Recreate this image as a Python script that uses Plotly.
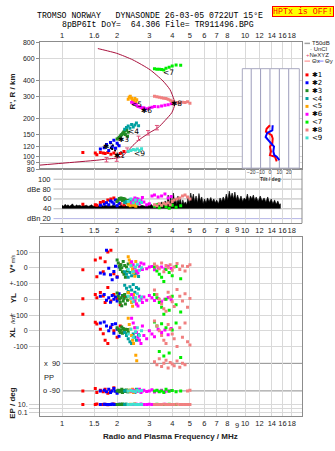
import math
import plotly.graph_objects as go

W, H = 335, 451


def px(x):
    return x / W


def py(y):
    return 1 - y / H


# ---------------- text ----------------
TITLE_1 = "TROMSO NORWAY\u00a0\u00a0\u00a0DYNASONDE 26-03-05 0722UT 15°E"
TITLE_2 = "8pBP6It DoY=\u00a0\u00a064.306 File= TR911496.BPG"
WARNING = "HPTx is OFF!"
X_TITLE = "Radio and Plasma Frequency / MHz"

FREQ_TICKS = [1, 1.5, 2, 3, 4, 5, 6, 7, 8, 10, 12, 14, 16, 18]
FREQ_TEXT_TOP = ["1", "1.6", "2", "3", "4", "5", "6", "7", "8", "10", "12", "14", "16", "18"]
FREQ_TEXT = ["1", "1.5", "2", "3", "4", "5", "6", "7", "8", "10", "12", "14", "16", "18"]
EXTRA_TICK = 9
HEIGHT_TICKS = [80, 90, 100, 120, 150, 200, 300, 400, 600, 800]
DBE_TICKS = [100, 80, 60, 40, 20]
DBE_TEXT = ["100", "dBe 80", "60", "40", "dBn 20"]
TILT_TICKS = [-20, -10, 0, 10, 20]

# ---------------- profile (plasma frequency vs height) ----------------
profile_f = [0.758, 1.0, 1.55, 1.75, 2.08, 2.26, 2.44, 2.67, 3.03, 3.35, 3.65, 3.98,
             4.13, 4.09, 3.89, 3.56, 3.03, 2.44, 1.99, 1.61, 1.57]
profile_h = [86, 89, 94, 96, 99, 109, 123, 138, 156, 170, 193, 223,
             259, 283, 339, 397, 486, 582, 656, 709, 715]

# NeXYZ points
nexyz_f = [1.75, 1.99, 2.27, 2.62, 2.95, 3.30]
nexyz_h = [95, 96, 113, 140, 155, 170]

# unclassified echoes
uncl_f = [1.85, 1.90, 1.95, 2.02, 2.10, 1.88]
uncl_h = [118, 122, 112, 125, 108, 115]

# ---------------- echo clusters ----------------
cluster_names = ["✱1", "✱2", "✱3", "<4", "<5", "✱6", "<7", "✱8", "<9"]
cluster_colors = ["#ff0000", "#0000ff", "#228b22", "#00a0a0", "#ffa500",
                  "#ff00ff", "#00ee00", "#f08080", "#40e0d0"]
label_f = [2.05, 1.80, 2.16, 2.45, 2.56, 2.90, 3.81, 4.24, 2.64]
label_h = [102, 121, 138, 158, 259, 234, 463, 263, 107]

ECHO_F = [
    [1.30, 1.52, 1.55, 1.62, 1.68, 1.72, 1.78, 1.85, 1.92, 2.00, 2.08, 2.18],
    [1.62, 1.70, 1.75, 1.80, 1.84, 1.88, 1.92, 1.96, 2.00, 2.05],
    [2.00, 2.03, 2.06, 2.08, 2.10, 2.12, 2.14, 2.16, 2.18, 2.20, 2.22, 2.25, 2.28, 2.30],
    [2.20, 2.25, 2.30, 2.35, 2.40, 2.45, 2.50, 2.55, 2.62],
    [2.30, 2.33, 2.36, 2.40, 2.43, 2.46, 2.50, 2.53, 2.56],
    [2.40, 2.45, 2.50, 2.55, 2.60, 2.65, 2.70, 2.75, 2.80, 2.90, 3.00, 3.10, 3.20, 3.35, 3.50, 3.65, 3.80, 3.95],
    [3.20, 3.30, 3.40, 3.50, 3.60, 3.70, 3.85, 4.00, 4.20, 4.45],
    [3.20, 3.30, 3.40, 3.50, 3.60, 3.70, 3.80, 3.90, 4.00, 4.10, 4.25, 4.40, 4.55, 4.70, 4.85, 5.00],
    [2.30, 2.38, 2.45, 2.52, 2.58, 2.65, 2.72],
]
ECHO_H = [
    [108, 107, 104, 108, 107, 106, 108, 105, 107, 103, 106, 110],
    [115, 118, 125, 112, 130, 120, 135, 117, 128, 122],
    [138, 140, 142, 145, 148, 150, 152, 155, 158, 160, 150, 162, 145, 156],
    [165, 170, 175, 168, 180, 172, 178, 185, 176],
    [285, 295, 300, 290, 280, 275, 288, 270, 282],
    [270, 265, 260, 258, 250, 248, 245, 242, 244, 240, 243, 246, 250, 248, 252, 255, 258, 262],
    [495, 490, 492, 488, 485, 500, 510, 520, 530, 528],
    [300, 298, 295, 292, 290, 288, 285, 280, 275, 270, 268, 266, 270, 268, 272, 265],
    [110, 112, 114, 113, 115, 112, 116],
]
ECHO_DBE = [
    [49, 48, 47, 53, 55, 52, 58, 60, 62, 56, 50, 48],
    [47, 49, 52, 48, 56, 54, 50, 58, 46, 51],
    [55, 58, 61, 60, 62, 59, 57, 61, 56, 60, 58, 54, 52, 57],
    [52, 55, 50, 58, 54, 48, 56, 60, 53],
    [48, 50, 46, 52, 49, 47, 51, 45, 50],
    [52, 58, 62, 55, 60, 50, 57, 63, 54, 48, 50, 66, 68, 64, 66, 70, 62, 65],
    [45, 48, 42, 46, 50, 44, 41, 47, 43, 46],
    [48, 46, 50, 47, 51, 49, 52, 48, 55, 58, 60, 62, 66, 68, 64, 60],
    [55, 60, 52, 58, 50, 57, 53],
]
ECHO_VS = [
    [-12, 50, -56, 62, -25, 38, 100, 112, -38, -56, 20, -30],
    [-33, -39, 112, -2, -44, -75, -23, 10, -60, 5],
    [50, 30, 10, -10, 20, 0, -25, 40, -40, 15, -60, 5, -20, 25],
    [-25, -40, -60, -30, -50, -20, -45, -35, -55],
    [70, 50, 30, 10, -10, -30, -54, 40, -20],
    [39, 20, 0, -20, -33, 10, 30, -10, 25, -5, 5, 8, -12, 0, 5, -8, 10, -4],
    [5, -20, -40, -60, -86, -10, -30, -50, 8, -70],
    [25, 10, -5, 31, -25, 15, 0, 20, -15, 5, 28, -10, 12, -20, 8, 20],
    [-10, 15, -25, 5, 20, -15, 0],
]
ECHO_YL = [
    [4, 31, 10, 44, 21, -20, 75, -10, 30, 5, -35, 15],
    [20, 31, -5, 10, -19, 25, 0, 15, -10, 35],
    [40, 20, 0, -20, 10, -40, 25, -10, 5, 30, -30, 15, -5, 44],
    [90, 70, 50, 80, 60, 94, 45, 75, 65],
    [44, 20, 0, -20, -44, 30, -10, 10, -30],
    [30, 10, -10, -30, -42, 20, 0, -20, 15, -5, 25, 10, -8, 5, -15, 0, 12, -3],
    [31, 10, -20, -50, -94, 0, -70, 20, -35, -80],
    [60, 30, 0, -30, -60, -75, 45, 15, -15, -45, 62, 20, -10, 35, -50, 5],
    [20, 5, -15, 10, 35, -5, 15],
]
ECHO_XL = [
    [106, 54, 44, 10, -19, -60, -81, 25, 0, -40, 30, -10],
    [50, 56, 30, 0, 20, 40, -15, 45, 10, -35],
    [20, 10, 0, -10, 5, 25, -15, 15, -5, 0, 10, -19, 8, -8],
    [-10, -30, -50, -70, -81, -20, -40, -60, -25],
    [80, 40, 10, -30, -60, -81, 20, -155, -190],
    [80, 50, 20, -10, -40, -60, -81, 30, -30, -50, 0, -20, -37, 10, -10, 5, -25, 15],
    [56, 30, -131, 45, -160, 20, -140, 5, 50, -170],
    [62, 30, 0, -30, -60, -81, 40, 10, -20, -50, -100, 20, -40, 50, -70, -90],
    [-20, 10, -40, -5, 20, -30, 0],
]
ECHO_PP = [
    [-90, -75, -100, -85, -95, -80, -105, -90, -70, -98, -88, -92],
    [-90, -85, -95, -80, -100, -90, -75, -92, -105, -88],
    [-90, -85, -95, -88, -92, -80, -100, -90, -86, -94, -90, -84, -96, -90],
    [-90, -88, -95, -85, -92, -90, -100, -80, -90],
    [-90, -85, -95, -90, -80, -100, -88, -92, -90],
    [-90, -85, -95, -92, -88, -80, -100, -90, -86, -94, -90, -82, -98, -90, -85, -95, -90, -88],
    [-90, -85, -95, -90, -100, -80, -92, -88, -95, -90],
    [100, 80, 120, 70, 90, 110, 60, 95, 85, 75, 105, 65, 90, 80, -90, -85],
    [-90, -88, -92, -95, -85, -90, -87],
]
ECHO_EP = [
    [10, 10, 12, 9, 10, 11, 8, 10, 13, 10, 9, 10],
    [10, 11, 9, 10, 10, 12, 10, 9, 10, 11],
    [10, 10, 9, 11, 10, 10, 12, 9, 10, 10, 11, 10, 9, 10],
    [10, 11, 10, 9, 10, 10, 11, 10, 9],
    [10, 10, 11, 9, 10, 10, 12, 10, 9],
    [10, 10, 9, 11, 10, 10, 12, 9, 10, 10, 11, 10, 9, 10, 10, 11, 10, 9],
    [10, 11, 10, 9, 10, 10, 11, 10, 10, 9],
    [10, 10, 9, 10, 11, 10, 10, 9, 10, 10, 11, 10, 10, 9, 10, 10],
    [10, 10, 11, 9, 10, 10, 10],
]

# ---------------- noise amplitude (dBe) ----------------
noise_f = [1.00, 1.02, 1.04, 1.06, 1.08, 1.10, 1.12, 1.14, 1.16, 1.18, 1.20, 1.22, 1.25, 1.28, 1.30, 1.33, 1.36, 1.39, 1.42, 1.45, 1.48,
           1.52, 1.56, 1.60, 1.64, 1.68, 1.72, 1.76, 1.80, 1.85, 1.90, 1.95, 2.00, 2.05, 2.10, 2.15, 2.20, 2.25, 2.30, 2.36, 2.42, 2.48, 2.54, 2.60, 2.66, 2.72, 2.78, 2.85, 2.92,
           3.00, 3.07, 3.14, 3.21, 3.28, 3.35, 3.42, 3.50, 3.58, 3.66, 3.74, 3.80, 3.86, 3.93, 4.00,
           4.06, 4.12, 4.18, 4.24, 4.30, 4.36, 4.43, 4.50, 4.57, 4.64, 4.72, 4.80, 4.88, 4.96,
           5.05, 5.13, 5.22, 5.30, 5.40, 5.50, 5.60, 5.70, 5.80, 5.90, 6.00, 6.12, 6.24, 6.36,
           6.50, 6.62, 6.75, 6.88, 7.00, 7.15, 7.30, 7.45, 7.60, 7.75, 7.90,
           8.05, 8.20, 8.35, 8.50, 8.65, 8.80, 8.95, 9.10, 9.30, 9.50, 9.70, 9.90,
           10.1, 10.3, 10.5, 10.7, 10.9, 11.1, 11.3, 11.5, 11.8,
           12.1, 12.4, 12.7, 13.0, 13.3, 13.6, 13.9, 14.2, 14.5, 14.8, 15.1, 15.4, 15.6]
noise_db = [47, 45, 49, 46, 48, 45, 47, 50, 46, 45, 48, 46, 47, 45, 48, 46, 47, 45, 46, 48, 45,
            47, 45, 46, 48, 45, 47, 46, 48, 45, 47, 46, 48, 45, 47, 46, 48, 45, 47, 46, 48, 45, 47, 46, 45, 47, 46, 45, 47,
            46, 49, 45, 50, 46, 52, 47, 54, 46, 56, 48, 68, 50, 62, 47,
            72, 55, 60, 48, 66, 52, 62, 47, 58, 50, 54, 48, 63, 50,
            72, 58, 70, 55, 66, 52, 71, 56, 64, 50, 60, 52, 62, 55,
            63, 54, 60, 52, 58, 50, 62, 55, 64, 56, 70,
            58, 76, 62, 72, 60, 74, 58, 68, 56, 66, 55, 62,
            58, 70, 56, 66, 60, 68, 57, 64, 55,
            66, 56, 62, 54, 64, 52, 60, 50, 58, 49, 56, 48, 50]
NOISE_FLOOR = 41

# ---------------- tilt profile ----------------
tilt_x_h = [176, 165, 156, 147, 138, 126, 119, 109, 102, 99, 91]
tilt_x = [0, -3.6, -4.3, 1.8, 2.9, 2.5, 0, 1.1, 0, 5.4, 7.2]
tilt_y_h = [176, 160, 153, 142, 134, 126, 119, 109, 102, 99, 93]
tilt_y = [2.9, 2.5, -2.9, -4.6, -1.8, 1.8, 4.3, 3.6, 4.6, 7.2, 10]

# ---------------- bottom-panel track layout (pixel rows) ----------------
ROW_VS, ROW_YL, ROW_XL, ROW_PP, ROW_EP = 268, 300, 332, 379, 406.7
PX_PER_UNIT = 0.16          # 16 px per 100 units
PP_PX_PER_DEG = 14 / 90
EP_PX_PER_DECADE = 4.15
BOTTOM_TICK_PX = [252, 268, 284, 300, 316, 332, 348, 406.7, 410.85, 415]
BOTTOM_TICK_TEXT = ["100", "0", "+-100", "0", "+-100", "0", "-100", "10.", "", "0.1"]

FRAME = "#8c8c8c"
GRID = "#d9d9d9"
TICKFONT = dict(family="Liberation Sans, Arial, sans-serif", size=7.5, color="#222")
YTICKFONT = dict(family="Liberation Sans, Arial, sans-serif", size=7, color="#222")
X_RANGE = [math.log10(0.7582), math.log10(20.47)]

fig = go.Figure()

# --- top panel ---
fig.add_trace(go.Scatter(x=profile_f, y=profile_h, mode="lines", line=dict(color="#a8103c", width=1, shape="spline", smoothing=0.6),
                         xaxis="x", yaxis="y", hoverinfo="skip"))
fig.add_trace(go.Scatter(x=nexyz_f, y=nexyz_h, mode="markers", marker=dict(size=1, color="#e0507a"),
                         error_y=dict(type="percent", value=4, color="#e0507a", thickness=1, width=2),
                         xaxis="x", yaxis="y", hoverinfo="skip"))
fig.add_trace(go.Scatter(x=uncl_f, y=uncl_h, mode="markers", marker=dict(size=2, color="black", symbol="square"),
                         xaxis="x", yaxis="y", hoverinfo="skip"))

for i, col in enumerate(cluster_colors):
    fig.add_trace(go.Scatter(x=ECHO_F[i], y=ECHO_H[i], mode="markers",
                             marker=dict(size=3, color=col, symbol="square"),
                             xaxis="x", yaxis="y", hoverinfo="skip"))

# --- dBe panel ---
poly_x = noise_f + noise_f[::-1]
poly_y = noise_db + [NOISE_FLOOR] * len(noise_f)
fig.add_trace(go.Scatter(x=poly_x, y=poly_y, mode="lines", fill="toself", fillcolor="black",
                         line=dict(color="black", width=0.6), xaxis="x2", yaxis="y2", hoverinfo="skip"))
for i, col in enumerate(cluster_colors):
    fig.add_trace(go.Scatter(x=ECHO_F[i], y=ECHO_DBE[i], mode="markers",
                             marker=dict(size=3, color=col, symbol="square"),
                             xaxis="x2", yaxis="y2", hoverinfo="skip"))

# --- bottom panel ---
for i, col in enumerate(cluster_colors):
    xs, ys = [], []
    for f, v in zip(ECHO_F[i], ECHO_VS[i]):
        xs.append(f); ys.append(ROW_VS - v * PX_PER_UNIT)
    for f, v in zip(ECHO_F[i], ECHO_YL[i]):
        xs.append(f); ys.append(ROW_YL - v * PX_PER_UNIT)
    for f, v in zip(ECHO_F[i], ECHO_XL[i]):
        xs.append(f); ys.append(ROW_XL - v * PX_PER_UNIT)
    for f, v in zip(ECHO_F[i], ECHO_PP[i]):
        xs.append(f); ys.append(ROW_PP - v * PP_PX_PER_DEG)
    for f, v in zip(ECHO_F[i], ECHO_EP[i]):
        xs.append(f); ys.append(ROW_EP - (math.log10(v) - 1) * EP_PX_PER_DECADE)
    fig.add_trace(go.Scatter(x=xs, y=ys, mode="markers", marker=dict(size=3, color=col, symbol="square"),
                             xaxis="x3", yaxis="y3", hoverinfo="skip"))

# --- inset tilt panel ---
IN_Y = [80.4, 494.8]
IN_X = [-29.5, 31.3]
fig.add_trace(go.Scatter(x=[IN_X[0], IN_X[1], IN_X[1], IN_X[0], IN_X[0]], y=[IN_Y[0], IN_Y[0], IN_Y[1], IN_Y[1], IN_Y[0]],
                         mode="lines", fill="toself", fillcolor="white", line=dict(width=0),
                         xaxis="x4", yaxis="y4", hoverinfo="skip"))
for t in TILT_TICKS:
    fig.add_trace(go.Scatter(x=[t, t], y=IN_Y, mode="lines", line=dict(color="#9c9cbc", width=1),
                             xaxis="x4", yaxis="y4", hoverinfo="skip"))
fig.add_trace(go.Scatter(x=tilt_x, y=tilt_x_h, mode="lines", line=dict(color="#ff0000", width=2),
                         xaxis="x4", yaxis="y4", hoverinfo="skip"))
fig.add_trace(go.Scatter(x=tilt_y, y=tilt_y_h, mode="lines", line=dict(color="#0000ff", width=2),
                         xaxis="x4", yaxis="y4", hoverinfo="skip"))

shapes = []
annotations = []

# inset frame
shapes.append(dict(type="rect", xref="paper", yref="paper", x0=px(242.3), x1=px(299.3), y0=py(166.7), y1=py(65.7),
                   line=dict(color="#a8a8c0", width=1), layer="above"))

# dBe panel grid lines + labels
for v, t in zip(DBE_TICKS, DBE_TEXT):
    shapes.append(dict(type="line", xref="paper", yref="y2", x0=px(53.5), x1=px(302), y0=v, y1=v,
                       line=dict(color="#b4b4e6" if v == 20 else "#b8b8b8", width=1), layer="below"))
    annotations.append(dict(text=t, xref="paper", yref="y2", x=px(53), y=v, xanchor="right", yanchor="middle",
                            showarrow=False, font=TICKFONT))
shapes.append(dict(type="line", xref="paper", yref="paper", x0=px(302), x1=px(302), y0=py(222.7), y1=py(167.7),
                   line=dict(color=FRAME, width=1)))

# bottom panel PP lines
for yy in [365, 393]:
    shapes.append(dict(type="line", xref="paper", yref="y3", x0=px(62), x1=px(302), y0=yy, y1=yy,
                       line=dict(color="#8c8c8c", width=1), layer="below"))
annotations += [
    dict(text="x\u00a0\u00a090", xref="paper", yref="y3", x=px(62), y=365, xanchor="right", yanchor="middle", showarrow=False, font=TICKFONT),
    dict(text="PP", xref="paper", yref="y3", x=px(42), y=379, xanchor="left", yanchor="middle", showarrow=False, font=TICKFONT),
    dict(text="o -90", xref="paper", yref="y3", x=px(62), y=393, xanchor="right", yanchor="middle", showarrow=False, font=TICKFONT),
]

# extra "9" tick labels
for yy in [229.5, 428]:
    annotations.append(dict(text=str(EXTRA_TICK), xref="paper", yref="paper",
                            x=px(62 + 183 * math.log10(EXTRA_TICK)), y=py(yy), xanchor="center", yanchor="middle",
                            showarrow=False, font=TICKFONT))

# cluster labels on ionogram
for name, f, h in zip(cluster_names, label_f, label_h):
    annotations.append(dict(text=name, xref="x", yref="y", x=math.log10(f), y=math.log10(h), xanchor="center",
                            yanchor="middle", showarrow=False, borderpad=0,
                            font=dict(family="DejaVu Sans, sans-serif", size=7.5, color="black")))

# header
MONO = "Liberation Mono, DejaVu Sans Mono, monospace"
annotations += [
    dict(text=TITLE_1, xref="paper", yref="paper", x=px(150), y=py(11.6), xanchor="center", yanchor="middle",
         showarrow=False, borderpad=0, font=dict(family=MONO, size=8.2, color="black")),
    dict(text=TITLE_2, xref="paper", yref="paper", x=px(157.5), y=py(20.4), xanchor="center", yanchor="middle",
         showarrow=False, borderpad=0, font=dict(family=MONO, size=8.2, color="black")),
    dict(text=WARNING, xref="paper", yref="paper", x=px(302.5), y=py(7.3), xanchor="center", yanchor="middle",
         showarrow=False, bgcolor="#ffff00", bordercolor="#ff0000", borderwidth=1, borderpad=0,
         font=dict(family=MONO, size=8.3, color="#ff0000")),
]

# axis titles
BOLD = dict(family="Liberation Sans, Arial, sans-serif", size=8, color="#222")
annotations += [
    dict(text="<b>R', R / km</b>", xref="paper", yref="paper", x=px(13), y=py(89), textangle=-90,
         xanchor="center", yanchor="middle", showarrow=False, font=BOLD),
    dict(text="<b>V*</b><span style='font-size:5px'> m/s</span>", xref="paper", yref="paper", x=px(13), y=py(264),
         textangle=-90, xanchor="center", yanchor="middle", showarrow=False, font=BOLD),
    dict(text="<b>YL</b>", xref="paper", yref="paper", x=px(13), y=py(299), textangle=-90,
         xanchor="center", yanchor="middle", showarrow=False, font=BOLD),
    dict(text="<span style='font-size:6px'>/km</span>", xref="paper", yref="paper", x=px(13), y=py(320), textangle=-90,
         xanchor="center", yanchor="middle", showarrow=False, font=BOLD),
    dict(text="<b>XL</b>", xref="paper", yref="paper", x=px(13), y=py(334), textangle=-90,
         xanchor="center", yanchor="middle", showarrow=False, font=BOLD),
    dict(text="<b>EP / deg</b>", xref="paper", yref="paper", x=px(13), y=py(405), textangle=-90,
         xanchor="center", yanchor="middle", showarrow=False, font=BOLD),
    dict(text="<b>" + X_TITLE + "</b>", xref="paper", yref="paper", x=px(170), y=py(439),
         xanchor="center", yanchor="middle", showarrow=False, font=BOLD),
    dict(text="<b>Tilt / deg</b>", xref="paper", yref="paper", x=px(270), y=py(177.8),
         xanchor="center", yanchor="middle", showarrow=False,
         font=dict(family="Liberation Sans, Arial, sans-serif", size=5, color="#333")),
]

# legend (drawn manually)
LEG = dict(family="Liberation Sans, Arial, sans-serif", size=6, color="#222")
shapes.append(dict(type="line", xref="paper", yref="paper", x0=px(304.5), x1=px(310), y0=py(40), y1=py(40),
                   line=dict(color="#a0a0a0", width=1.5)))
annotations.append(dict(text="T50dB", xref="paper", yref="paper", x=px(311), y=py(40), xanchor="left",
                        yanchor="middle", showarrow=False, borderpad=0, font=LEG))
annotations.append(dict(text="·\u00a0UnCl", xref="paper", yref="paper", x=px(309), y=py(46), xanchor="left",
                        yanchor="middle", showarrow=False, borderpad=0, font=LEG))
annotations.append(dict(text="<span style='color:#e0507a'>+</span>NeXYZ", xref="paper", yref="paper", x=px(304.5),
                        y=py(52), xanchor="left", yanchor="middle", showarrow=False, borderpad=0, font=LEG))
shapes.append(dict(type="line", xref="paper", yref="paper", x0=px(304.5), x1=px(310), y0=py(58), y1=py(58),
                   line=dict(color="#ff8080", width=1)))
shapes.append(dict(type="line", xref="paper", yref="paper", x0=px(318), x1=px(323.5), y0=py(58), y1=py(58),
                   line=dict(color="#8080ff", width=1)))
annotations.append(dict(text="Θx", xref="paper", yref="paper", x=px(310.5), y=py(58), xanchor="left",
                        yanchor="middle", showarrow=False, borderpad=0, font=LEG))
annotations.append(dict(text="Θy", xref="paper", yref="paper", x=px(324), y=py(58), xanchor="left",
                        yanchor="middle", showarrow=False, borderpad=0, font=LEG))
for k, (name, col) in enumerate(zip(cluster_names, cluster_colors)):
    yy = 72 + 8 * k
    shapes.append(dict(type="rect", xref="paper", yref="paper", x0=px(305.5), x1=px(308.5), y0=py(yy + 1.5),
                       y1=py(yy - 1.5), fillcolor=col, line=dict(width=0)))
    annotations.append(dict(text=name, xref="paper", yref="paper", x=px(311), y=py(yy), xanchor="left",
                            yanchor="middle", showarrow=False, borderpad=0,
                            font=dict(family="DejaVu Sans, sans-serif", size=7, color="black")))

fig.update_layout(
    width=W, height=H, margin=dict(l=0, r=0, t=0, b=0),
    paper_bgcolor="white", plot_bgcolor="white", showlegend=False,
    xaxis=dict(type="log", range=X_RANGE, domain=[px(40), px(302)], anchor="y", side="top",
               tickvals=FREQ_TICKS, ticktext=FREQ_TEXT_TOP, showgrid=True, gridcolor=GRID, ticks="", tickangle=0,
               showline=True, linecolor=FRAME, mirror=True, tickfont=TICKFONT, zeroline=False),
    yaxis=dict(type="log", range=[math.log10(80), math.log10(800)], domain=[py(167.7), py(39)], anchor="x",
               tickvals=HEIGHT_TICKS, showgrid=True, gridcolor=GRID, ticks="outside", ticklen=3, tickcolor=FRAME,
               showline=True, linecolor=FRAME, mirror=True, tickfont=YTICKFONT, zeroline=False),
    xaxis2=dict(type="log", range=X_RANGE, domain=[px(40), px(302)], anchor="y2", side="bottom",
                tickvals=FREQ_TICKS, ticktext=FREQ_TEXT, showgrid=True, gridcolor=GRID, ticks="", tickangle=0,
                showline=True, linecolor=FRAME, mirror=True, tickfont=TICKFONT, zeroline=False),
    yaxis2=dict(range=[10.6, 120.6], domain=[py(222.7), py(167.7)], anchor="x2", showticklabels=False,
                showgrid=False, zeroline=False, showline=False),
    xaxis3=dict(type="log", range=X_RANGE, domain=[px(40), px(302)], anchor="y3", side="bottom",
                tickvals=FREQ_TICKS, ticktext=FREQ_TEXT, showgrid=True, gridcolor=GRID, ticks="", tickangle=0,
                showline=True, linecolor=FRAME, mirror=True, tickfont=TICKFONT, zeroline=False),
    yaxis3=dict(range=[419, 237], domain=[py(419), py(237)], anchor="x3", tickvals=BOTTOM_TICK_PX,
                ticktext=BOTTOM_TICK_TEXT, ticks="outside", ticklen=10, tickcolor="#cfcfcf", showgrid=True,
                gridcolor=GRID, showline=True, linecolor=FRAME, mirror=True, tickfont=YTICKFONT, zeroline=False),
    xaxis4=dict(range=IN_X, domain=[px(242.3), px(299.3)], anchor="y4", tickvals=TILT_TICKS, tickangle=0,
                tickfont=dict(family="Liberation Sans, Arial, sans-serif", size=5, color="#333"),
                showgrid=False, showline=False, ticks="", zeroline=False, ticklabelstandoff=0),
    yaxis4=dict(type="log", range=[math.log10(IN_Y[0]), math.log10(IN_Y[1])], domain=[py(166.7), py(65.7)],
                anchor="x4", visible=False),
    shapes=shapes, annotations=annotations,
)

fig.write_html("out.html")
